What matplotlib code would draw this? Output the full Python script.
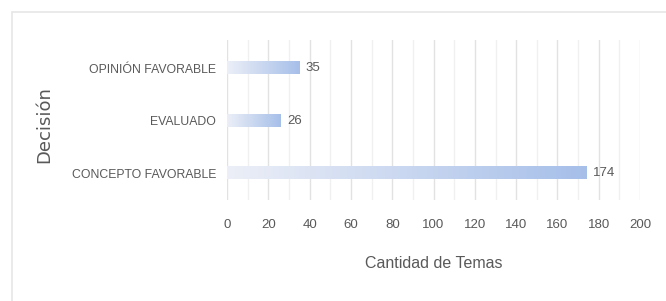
import numpy as np
import matplotlib.pyplot as plt
from matplotlib.patches import Rectangle
from matplotlib.colors import LinearSegmentedColormap

categorias = ['CONCEPTO FAVORABLE', 'EVALUADO', 'OPINIÓN FAVORABLE']
cantidades = [174, 26, 35]
ticks_x = list(range(0, 201, 20))

plt.rcParams['font.family'] = ['Liberation Sans', 'DejaVu Sans']
gris = '#595959'

fig = plt.figure(figsize=(6.66, 3.01), dpi=100)
# marco claro alrededor del grafico
fig.patches.append(Rectangle((0.018, -0.02), 1.0, 0.98, transform=fig.transFigure,
                             fill=False, edgecolor='#e6e6e6', linewidth=1.2))

ax = fig.add_axes([0.341, 0.336, 0.62, 0.531])

# degradado de cada barra
cmap = LinearSegmentedColormap.from_list('deg', ['#eceff7', '#a6bfe9'])
grad = np.linspace(0, 1, 256).reshape(1, -1)
alto = 0.23
for i, v in enumerate(cantidades):
    ax.imshow(grad, cmap=cmap, aspect='auto', extent=(0, v, i - alto / 2, i + alto / 2),
              zorder=2, interpolation='bilinear')
    ax.text(v + 3, i, str(v), va='center', ha='left', fontsize=9.5, color=gris)
ax.set_xlim(0, 200)
ax.set_ylim(-0.51, 2.54)

ax.set_xticks(ticks_x)
ax.set_xticks(range(10, 200, 20), minor=True)
ax.grid(axis='x', which='major', color='#e2e2e2', linewidth=1)
ax.grid(axis='x', which='minor', color='#f0f0f0', linewidth=1)
ax.set_axisbelow(True)
ax.set_yticks(range(len(categorias)))
ax.set_yticklabels(categorias, fontsize=8.8)
ax.tick_params(axis='both', which='both', length=0, colors=gris)
ax.tick_params(axis='x', pad=14, labelsize=9.5)
ax.tick_params(axis='y', pad=8)
for s in ax.spines.values():
    s.set_visible(False)

ax.set_xlabel('Cantidad de Temas', fontsize=11.5, color=gris, labelpad=18)
fig.text(0.066, 0.585, 'Decisión', rotation=90, ha='center', va='center',
         fontsize=13, color=gris, family='DejaVu Sans')

fig.savefig('out.png', dpi=100, facecolor='white')
